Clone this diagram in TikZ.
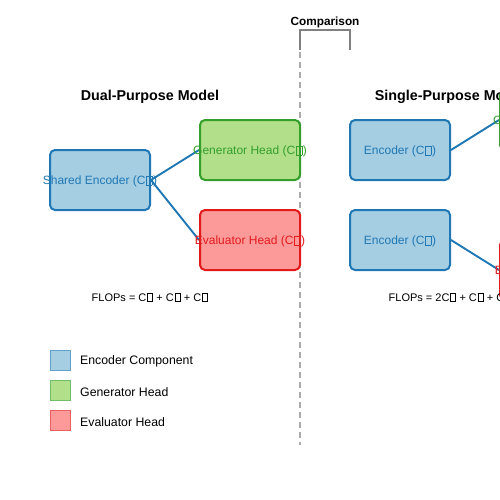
\documentclass[tikz,border=0pt]{standalone}
\usepackage{fontspec}
\setmainfont{Liberation Sans}
\newcommand\tofu{{\kern0.07em\fboxsep0pt\fboxrule0.4pt\fbox{\vrule width0pt height0.7em\hspace{0.42em}}\kern0.07em}}
\definecolor{encfill}{HTML}{A6CEE3}
\definecolor{encline}{HTML}{1F78B4}
\definecolor{genfill}{HTML}{B2DF8A}
\definecolor{genline}{HTML}{33A02C}
\definecolor{evafill}{HTML}{FB9A99}
\definecolor{evaline}{HTML}{E31A1C}
\tikzset{
  blk/.style={draw, line width=2pt, rounded corners=5pt, minimum width=100pt, minimum height=60pt, inner sep=0pt},
  enc/.style={blk, fill=encfill, draw=encline},
  gen/.style={blk, fill=genfill, draw=genline},
  eva/.style={blk, fill=evafill, draw=evaline},
  lbl/.style={font=\fontsize{12}{14}\selectfont, inner sep=0pt, yshift=-1.8pt},
  title/.style={font=\bfseries\fontsize{14.3}{16}\selectfont, inner sep=0pt, yshift=-1.8pt},
  flops/.style={font=\fontsize{11}{13}\selectfont, inner sep=0pt, yshift=-1.5pt},
  conn/.style={draw=encline, line width=1.9pt},
  leg/.style={draw, line width=1.2pt, minimum size=20pt, inner sep=0pt, anchor=north west},
  legtxt/.style={font=\fontsize{12.3}{14}\selectfont, inner sep=0pt, anchor=west, yshift=-1.8pt},
}
\begin{document}
\begin{tikzpicture}[x=1pt,y=-1pt]
\useasboundingbox (0,0) rectangle (500,500);
\clip (0,0) rectangle (500,500);
% divider
\draw[draw=black!33, line width=1.6pt, dash pattern=on 6pt off 4pt] (300,52) -- (300,445);
\draw[draw=black!50, line width=1.4pt] (300,50) -- (300,30) -- (350,30) -- (350,50);
\node[font=\bfseries\fontsize{11.8}{13}\selectfont, inner sep=0pt, yshift=-1.5pt] (cmp) at (325,21) {Comparison};
% left
\node[title] (t1) at (150,95) {Dual-Purpose Model};
\node[enc] (se) at (100,180) {};
\node[gen] (gh) at (250,150) {};
\node[eva] (eh) at (250,240) {};
\draw[conn] (se.east) -- (gh.west);
\draw[conn] (se.east) -- (eh.west);
\node[lbl, text=encline] at (se.center) {Shared Encoder (C\tofu)};
\node[lbl, text=genline] at (gh.center) {Generator Head (C\tofu)};
\node[lbl, text=evaline] at (eh.center) {Evaluator Head (C\tofu)};
\node[flops] (f1) at (150,296) {FLOPs = C\tofu{} + C\tofu{} + C\tofu};
% right
\node[title] (t2) at (450,95) {Single-Purpose Model};
\node[enc] (e1) at (400,150) {};
\node[enc] (e2) at (400,240) {};
\node[gen] (g2) at (550,120) {};
\node[eva] (v2) at (550,270) {};
\draw[conn] (e1.east) -- (g2.west);
\draw[conn] (e2.east) -- (v2.west);
\node[lbl, text=encline] at (e1.center) {Encoder (C\tofu)};
\node[lbl, text=encline] at (e2.center) {Encoder (C\tofu)};
\node[lbl, text=genline] at (g2.center) {Generator Head (C\tofu)};
\node[lbl, text=evaline] at (v2.center) {Evaluator Head (C\tofu)};
\node[flops] (f2) at (450,296) {FLOPs = 2C\tofu{} + C\tofu{} + C\tofu};
% legend
\node[leg, fill=encfill, draw=encline!70] (l1) at (50,350) {};
\node[leg, fill=genfill, draw=genline!70] (l2) at (50,380) {};
\node[leg, fill=evafill, draw=evaline!70] (l3) at (50,410) {};
\node[legtxt] at (80,360) {Encoder Component};
\node[legtxt] at (80,390) {Generator Head};
\node[legtxt] at (80,420) {Evaluator Head};
\end{tikzpicture}
\end{document}
